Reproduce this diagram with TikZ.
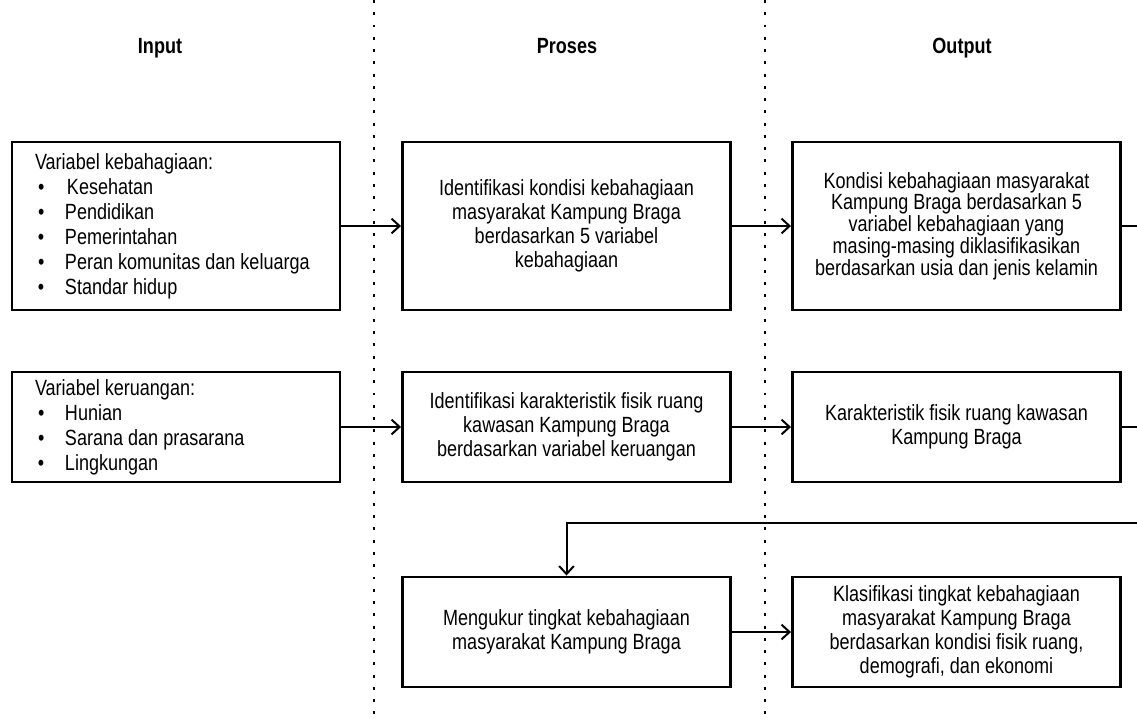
\documentclass[tikz,border=0pt]{standalone}
\usepackage{fontspec}
\setmainfont[FakeStretch=0.82]{Liberation Sans}
\usetikzlibrary{arrows.meta}

\newcommand{\butir}{\hspace*{2.25pt}\makebox[20.25pt][l]{\textbullet}}

\begin{document}
\begin{tikzpicture}[x=0.75pt,y=-0.75pt,
  kotak/.style={draw,line width=2.2pt,minimum width=246pt,inner sep=0pt,align=flush center,font=\fontsize{16.5}{18}\selectfont},
  kotakbesar/.style={kotak,minimum height=126pt},
  kotakkecil/.style={kotak,minimum height=82.5pt},
  daftar/.style={align=flush left,text width=211.5pt,inner xsep=17.25pt,font=\fontsize{16.5}{18.75}\selectfont},
  judul/.style={anchor=base,font=\fontsize{16.5}{18}\selectfont\bfseries},
  panah/.style={line width=1.5pt,-{Straight Barb[length=6pt,width=11pt]}},
  garis/.style={line width=1.5pt},
  batas/.style={line width=2.2pt,dash pattern=on 2.2pt off 7pt}]
\useasboundingbox (0,0) rectangle (1137,718);
%batas kolom
\draw[batas] (374,0) -- (374,718);
\draw[batas] (765,0) -- (765,718);
%judul
\node[judul] (jInput) at (160,53) {Input};
\node[judul] (jProses) at (567,53) {Proses};
\node[judul] (jOutput) at (962,53) {Output};
%baris 1
\node[kotakbesar,daftar] (A1) at (176,226) {Variabel kebahagiaan:\\
  \butir\hspace{1.5pt}Kesehatan\\
  \butir Pendidikan\\
  \butir Pemerintahan\\
  \butir Peran komunitas dan keluarga\\
  \butir Standar hidup};
\node[kotakbesar] (P1) at (566.5,226) {Identifikasi kondisi kebahagiaan\\masyarakat Kampung Braga\\berdasarkan 5 variabel\\kebahagiaan};
\node[kotakbesar,font=\fontsize{16.5}{16.3}\selectfont] (O1) at (956.5,226) {Kondisi kebahagiaan masyarakat\\Kampung Braga berdasarkan 5\\variabel kebahagiaan yang\\masing-masing diklasifikasikan\\berdasarkan usia dan jenis kelamin};
%baris 2
\node[kotakkecil,daftar] (A2) at (176,427) {Variabel keruangan:\\
  \butir Hunian\\
  \butir Sarana dan prasarana\\
  \butir Lingkungan};
\node[kotakkecil] (P2) at (566.5,427) {Identifikasi karakteristik fisik ruang\\kawasan Kampung Braga\\berdasarkan variabel keruangan};
\node[kotakkecil] (O2) at (956.5,427) {Karakteristik fisik ruang kawasan\\Kampung Braga};
%baris 3
\node[kotakkecil] (P3) at (566.5,632) {Mengukur tingkat kebahagiaan\\masyarakat Kampung Braga};
\node[kotakkecil] (O3) at (956.5,632) {Klasifikasi tingkat kebahagiaan\\masyarakat Kampung Braga\\berdasarkan kondisi fisik ruang,\\demografi, dan ekonomi};
%panah
\coordinate (k1) at (1137,226);
\coordinate (k2) at (1137,427);
\coordinate (k3) at (1137,523);
\draw[panah] (A1) -- (P1);
\draw[panah] (P1) -- (O1);
\draw[garis] (O1) -- (k1);
\draw[panah] (A2) -- (P2);
\draw[panah] (P2) -- (O2);
\draw[garis] (O2) -- (k2);
\draw[panah] (k3) -| (P3.north);
\draw[panah] (P3) -- (O3);
\end{tikzpicture}
\end{document}
